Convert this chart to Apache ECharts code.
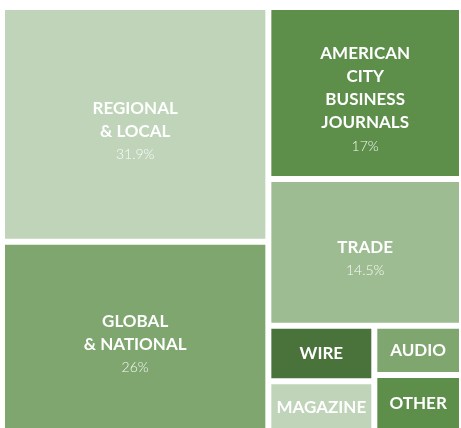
<!DOCTYPE html>
<html>
<head>
<meta charset="utf-8">
<script src="https://cdn.jsdelivr.net/npm/echarts@6/dist/echarts.min.js"></script>
<style>
html,body{margin:0;padding:0;background:#fff;}
#chart{width:461px;height:428px;}
</style>
</head>
<body>
<div id="chart"></div>
<script>
// ---- data ----
const names = ['REGIONAL\n& LOCAL', 'GLOBAL\n& NATIONAL', 'AMERICAN\nCITY\nBUSINESS\nJOURNALS', 'TRADE', 'WIRE', 'MAGAZINE', 'AUDIO', 'OTHER'];
const values = [31.9, 26, 17, 14.5, 3.0, 2.8, 2.2, 2.6];
const pctLabels = ['31.9%', '26%', '17%', '14.5%', '', '', '', ''];
const colors = ['#bfd4b9', '#7ea66e', '#5d8f4b', '#9ebc92', '#4a733b', '#bfd4b9', '#7ea66e', '#5d8f4b'];

const LINE_H = 23;

function leaf(i) {
  const nameLines = names[i].split('\n').map(s => '{n|' + s + '}').join('\n');
  const text = pctLabels[i] ? nameLines + '\n{p|' + pctLabels[i] + '}' : nameLines;
  return {
    name: names[i].replace(/\n/g, ' '),
    value: values[i],
    itemStyle: { color: colors[i], borderWidth: 3, borderColor: '#ffffff', gapWidth: 0 },
    label: { show: true, formatter: text }
  };
}
function group(children) {
  return { children: children, itemStyle: { borderWidth: 0, gapWidth: 0, borderColor: '#ffffff' } };
}

const treeData = [
  group([leaf(0), leaf(1)]),
  group([leaf(2), leaf(3), group([group([leaf(4), leaf(5)]), group([leaf(6), leaf(7)])])])
];

const chart = echarts.init(document.getElementById('chart'), null, { renderer: 'canvas' });
chart.setOption({
  backgroundColor: '#ffffff',
  animation: false,
  tooltip: { show: false },
  series: [{
    type: 'treemap',
    left: 2,
    top: 7,
    width: 460,
    height: 426,
    sort: false,
    squareRatio: 1,
    roam: false,
    nodeClick: false,
    silent: true,
    breadcrumb: { show: false },
    visibleMin: 0,
    itemStyle: { borderWidth: 0, gapWidth: 0, borderColor: '#ffffff' },
    upperLabel: { show: false },
    label: {
      show: true,
      position: 'inside',
      padding: 0,
      overflow: 'none',
      align: 'center',
      color: '#ffffff',
      rich: {
        n: { fontFamily: 'Lato', fontWeight: 'bold', fontSize: 17, color: '#ffffff', lineHeight: LINE_H, align: 'center' },
        p: { fontFamily: 'Lato', fontWeight: 300, fontSize: 14, color: 'rgba(255,255,255,0.92)', lineHeight: LINE_H, align: 'center' }
      }
    },
    labelLayout: function (params) {
      const txt = String(params.text || '');
      const lines = txt.split('\n').length;
      const hasPct = txt.indexOf('{p|') >= 0;
      return { dy: (params.rect.height - lines * LINE_H) / 2 + (hasPct ? 7 : 0) };
    },
    emphasis: { disabled: true },
    data: treeData
  }]
});
</script>
</body>
</html>
